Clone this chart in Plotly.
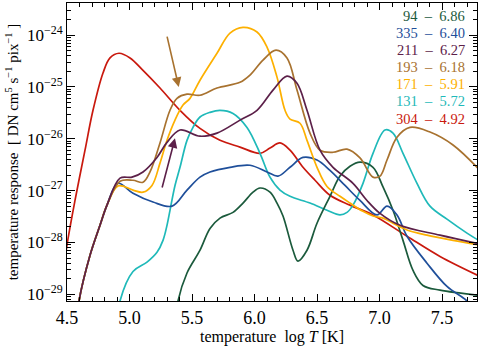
import plotly.graph_objects as go

# log10 temperature / log10 response
t_304 = [4.47, 4.5, 4.564, 4.644, 4.708, 4.788, 4.844, 4.916, 5.004, 5.108, 5.244, 5.404, 5.564, 5.724, 5.884, 6.044, 6.124, 6.204, 6.284, 6.388, 6.484, 6.604, 6.764, 6.948, 7.22, 7.484, 7.80]
r_304 = [-28.6, -28.05, -27.19, -26.22, -25.45, -24.73, -24.44, -24.35, -24.44, -24.68, -25.02, -25.45, -25.80, -26.03, -26.16, -26.28, -26.18, -26.08, -26.22, -26.55, -26.80, -27.09, -27.28, -27.47, -27.88, -28.27, -28.65]

t_335 = [4.56, 4.596, 4.684, 4.764, 4.82, 4.908, 5.028, 5.188, 5.34, 5.46, 5.564, 5.644, 5.804, 5.964, 6.1, 6.188, 6.284, 6.388, 6.5, 6.604, 6.724, 6.844, 6.98, 7.06, 7.14, 7.22, 7.38, 7.54, 7.70, 7.75]
r_335 = [-29.9, -29.13, -28.25, -27.67, -27.28, -26.86, -27.05, -27.22, -27.30, -26.99, -26.74, -26.64, -26.55, -26.51, -26.64, -26.72, -26.55, -26.36, -26.41, -26.61, -26.90, -27.19, -27.47, -27.30, -27.47, -27.88, -28.40, -28.85, -29.13, -29.3]

t_211 = [4.56, 4.596, 4.684, 4.764, 4.82, 4.924, 5.02, 5.108, 5.22, 5.3, 5.404, 5.564, 5.7, 5.884, 6.02, 6.148, 6.26, 6.34, 6.42, 6.524, 6.628, 6.788, 6.9, 7.004, 7.164, 7.484, 7.80]
r_211 = [-29.9, -29.13, -28.25, -27.67, -27.28, -26.76, -26.74, -26.64, -26.36, -26.07, -25.83, -25.95, -25.89, -25.64, -25.45, -25.06, -24.79, -24.93, -25.45, -26.22, -26.55, -26.86, -27.19, -27.44, -27.67, -27.86, -28.03]

t_193 = [4.56, 4.596, 4.684, 4.764, 4.82, 4.924, 5.028, 5.108, 5.164, 5.244, 5.324, 5.38, 5.46, 5.564, 5.7, 5.884, 5.964, 6.068, 6.172, 6.26, 6.34, 6.444, 6.524, 6.628, 6.74, 6.844, 6.948, 7.004, 7.06, 7.14, 7.244, 7.404, 7.588, 7.80]
r_193 = [-29.9, -29.13, -28.25, -27.67, -27.28, -26.82, -26.80, -26.84, -26.64, -26.08, -25.45, -25.22, -25.14, -25.16, -25.02, -24.91, -24.77, -24.48, -24.29, -24.44, -25.06, -25.89, -26.22, -26.26, -26.20, -26.37, -26.74, -26.72, -26.41, -25.97, -25.78, -25.87, -26.12, -26.60]

t_171 = [4.56, 4.596, 4.684, 4.764, 4.82, 4.908, 5.028, 5.108, 5.18, 5.244, 5.3, 5.364, 5.428, 5.484, 5.564, 5.7, 5.804, 5.908, 6.02, 6.1, 6.18, 6.244, 6.284, 6.364, 6.42, 6.5, 6.58, 6.684, 6.764, 6.868, 6.948, 7.028, 7.108, 7.22, 7.38, 7.588, 7.80]
r_171 = [-29.9, -29.13, -28.25, -27.67, -27.28, -26.91, -26.99, -27.03, -26.90, -26.47, -26.03, -25.64, -25.35, -25.22, -24.87, -24.35, -23.96, -23.85, -23.94, -24.23, -24.81, -25.45, -25.62, -25.70, -26.03, -26.55, -26.92, -27.11, -27.24, -27.40, -27.49, -27.53, -27.63, -27.76, -27.86, -27.96, -28.05]

t_131 = [4.89, 4.924, 5.028, 5.14, 5.22, 5.268, 5.3, 5.324, 5.364, 5.404, 5.46, 5.508, 5.564, 5.644, 5.724, 5.828, 5.94, 6.044, 6.124, 6.204, 6.284, 6.444, 6.58, 6.684, 6.74, 6.788, 6.868, 6.948, 7.044, 7.108, 7.188, 7.3, 7.404, 7.54, 7.70, 7.80]
r_131 = [-29.8, -29.13, -28.56, -28.38, -28.19, -27.96, -27.67, -27.38, -26.90, -26.55, -26.03, -25.78, -25.58, -25.49, -25.45, -25.51, -25.78, -26.28, -26.74, -26.99, -27.11, -27.24, -27.38, -27.47, -27.42, -27.28, -26.86, -26.28, -25.83, -25.89, -26.28, -26.86, -27.30, -27.55, -27.82, -27.97]

t_94 = [5.35, 5.388, 5.46, 5.564, 5.644, 5.724, 5.828, 5.908, 5.988, 6.044, 6.124, 6.18, 6.228, 6.308, 6.348, 6.42, 6.5, 6.604, 6.684, 6.764, 6.844, 6.948, 7.028, 7.108, 7.188, 7.268, 7.348, 7.484, 7.80]
r_94 = [-29.9, -29.13, -28.59, -28.15, -27.73, -27.53, -27.42, -27.24, -27.03, -26.95, -27.03, -27.24, -27.49, -28.15, -28.36, -28.15, -27.63, -27.11, -26.72, -26.53, -26.45, -26.55, -26.93, -27.38, -27.96, -28.54, -28.83, -28.92, -29.02]

channels = ["94", "335", "211", "193", "171", "131", "304"]
peaks = ["6.86", "6.40", "6.27", "6.18", "5.91", "5.72", "4.92"]
colors = ["#1b5a3c", "#1f4f9a", "#5c2049", "#a8722f", "#fdb000", "#1fb9b9", "#c9190e"]

series = {
    "94": (t_94, r_94), "335": (t_335, r_335), "211": (t_211, r_211),
    "193": (t_193, r_193), "171": (t_171, r_171), "131": (t_131, r_131),
    "304": (t_304, r_304),
}

y_tick_exp = [-29, -28, -27, -26, -25, -24]
x_tick_vals = [4.5, 5.0, 5.5, 6.0, 6.5, 7.0, 7.5]

fig = go.Figure()
draw_order = ["304", "131", "94", "335", "171", "193", "211"]
for ch in draw_order:
    t, r = series[ch]
    c = colors[channels.index(ch)]
    fig.add_trace(go.Scatter(
        x=t, y=[10 ** v for v in r], mode="lines",
        line=dict(color=c, width=1.7, shape="spline", smoothing=1.0),
        showlegend=False, hoverinfo="skip"))

font = "Liberation Serif, Times New Roman, serif"

# channel legend as coloured text
for i, (ch, pk, c) in enumerate(zip(channels, peaks, colors)):
    fig.add_annotation(xref="paper", yref="paper", x=0.975, y=0.957 - i * 0.0575,
                       text=f"{ch}  –  {pk}", showarrow=False, xanchor="right",
                       yanchor="middle", font=dict(family=font, size=14.5, color=c))

# arrows
fig.add_annotation(x=5.394, y=-25.0, ax=5.298, ay=-24.0, xref="x", yref="y",
                   axref="x", ayref="y", text="", showarrow=True,
                   arrowhead=2, arrowsize=1.2, arrowwidth=1.6, arrowcolor=colors[3])
fig.add_annotation(x=5.364, y=-25.99, ax=5.258, ay=-26.97, xref="x", yref="y",
                   axref="x", ayref="y", text="", showarrow=True,
                   arrowhead=2, arrowsize=1.2, arrowwidth=1.6, arrowcolor=colors[2])

axis_common = dict(showline=True, linecolor="black", linewidth=1, mirror="allticks",
                   ticks="inside", tickcolor="black", showgrid=False, zeroline=False,
                   automargin=False)

fig.update_xaxes(range=[4.5, 7.78], tickvals=x_tick_vals,
                 ticktext=[f"{v:.1f}" for v in x_tick_vals], ticklen=7,
                 tickfont=dict(family=font, size=18, color="black"),
                 minor=dict(ticks="inside", dtick=0.1, ticklen=4, tickcolor="black", showgrid=False),
                 title=dict(text="temperature  log <i>T</i> [K]", font=dict(family=font, size=16, color="black"), standoff=2),
                 **axis_common)
fig.update_yaxes(type="log", range=[-29.13, -23.38], tickvals=[10 ** e for e in y_tick_exp],
                 ticktext=[f"10<sup>−{-e}</sup>" for e in y_tick_exp], ticklen=8,
                 tickfont=dict(family=font, size=17, color="black"),
                 minor=dict(ticks="inside", dtick="D1", ticklen=4, tickcolor="black", showgrid=False),
                 title=dict(text="temperature response  [ DN cm<sup>5</sup> s<sup>−1</sup> pix<sup>−1</sup> ]",
                            font=dict(family=font, size=15, color="black"), standoff=4),
                 **axis_common)

fig.update_layout(width=480, height=346, margin=dict(l=67, r=3, t=3, b=45),
                  paper_bgcolor="white", plot_bgcolor="white",
                  font=dict(family=font, color="black"))

fig.write_html("out.html", config={"displayModeBar": False},
               post_script="document.body.style.margin='0';")
